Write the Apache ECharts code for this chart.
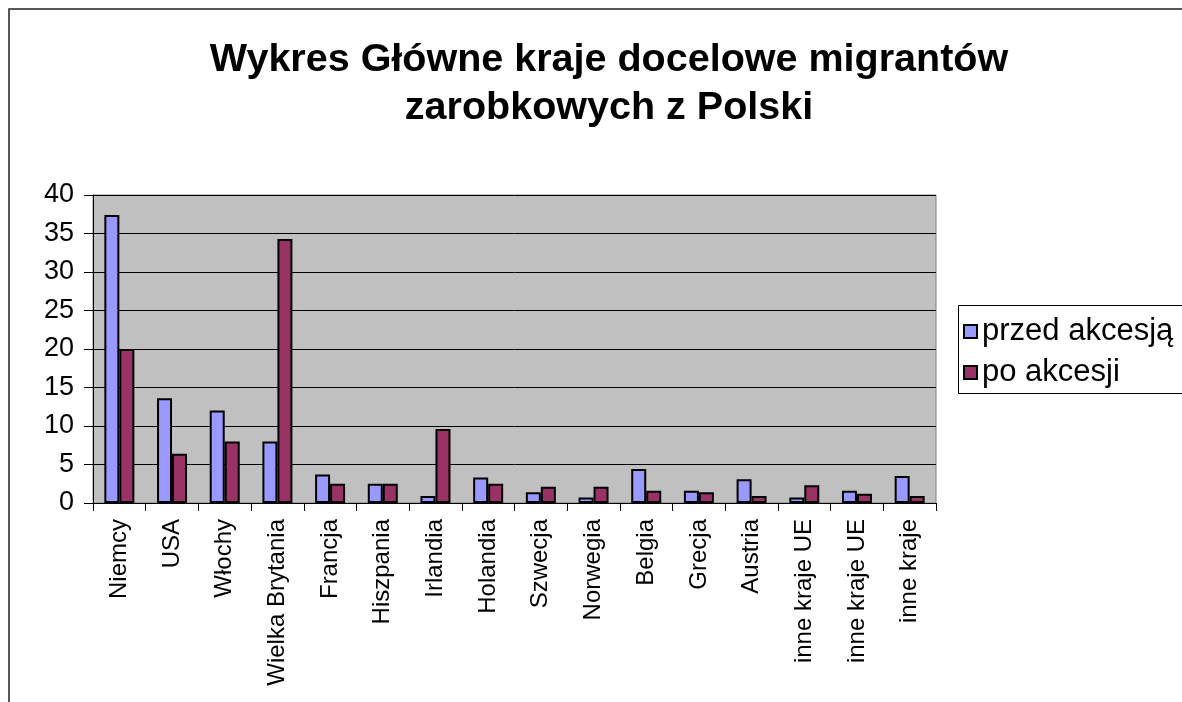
<!DOCTYPE html>
<html>
<head>
<meta charset="utf-8">
<script src="https://cdn.jsdelivr.net/npm/echarts@6/dist/echarts.min.js"></script>
<style>
  html, body { margin: 0; padding: 0; background: #fff; }
  #chart { width: 1182px; height: 702px; }
</style>
</head>
<body>
<div id="chart"></div>
<script>
const categories = ["Niemcy", "USA", "Włochy", "Wielka Brytania", "Francja", "Hiszpania", "Irlandia", "Holandia",
  "Szwecja", "Norwegia", "Belgia", "Grecja", "Austria", "inne kraje UE", "inne kraje UE", "inne kraje"];
const przedAkcesja = [37.4, 13.6, 12.0, 8.0, 3.7, 2.5, 0.9, 3.3, 1.4, 0.7, 4.4, 1.6, 3.1, 0.7, 1.6, 3.5];
const poAkcesji = [20.0, 6.4, 8.0, 34.3, 2.5, 2.5, 9.6, 2.5, 2.1, 2.1, 1.6, 1.4, 0.9, 2.3, 1.2, 0.9];
const seriesNames = ["przed akcesją", "po akcesji"];

const font = "'Liberation Sans', Arial, sans-serif";
const chart = echarts.init(document.getElementById("chart"));

chart.setOption({
  animation: false,
  textStyle: { fontFamily: font, color: "#000" },
  title: {
    text: "Wykres Główne kraje docelowe migrantów\nzarobkowych z Polski",
    left: 604,
    top: 31,
    textAlign: "center",
    textStyle: { fontSize: 39.5, fontWeight: "bold", lineHeight: 48, color: "#000", fontFamily: font },
  },
  legend: {
    data: seriesNames,
    orient: "vertical",
    left: 958,
    top: 305,
    icon: "rect",
    itemWidth: 13,
    itemHeight: 13,
    itemGap: 10,
    padding: [11, 5, 6, 5],
    textStyle: { fontSize: 31, color: "#000", fontFamily: font },
  },
  graphic: [
    {
      // outer chart border, runs off the right and bottom edges
      type: "rect",
      shape: { x: 9, y: 9, width: 1300, height: 800 },
      style: { fill: "none", stroke: "#222", lineWidth: 1.5 },
      silent: true,
    },
    {
      // legend frame, cut by the right edge like in the original
      type: "rect",
      shape: { x: 958.5, y: 305.5, width: 300, height: 88 },
      style: { fill: "none", stroke: "#000", lineWidth: 1 },
      silent: true,
    },
  ],
  grid: {
    left: 93,
    right: 246,
    top: 195,
    bottom: 199,
    show: true,
    backgroundColor: "#C0C0C0",
    borderColor: "#808080",
    borderWidth: 1,
  },
  xAxis: {
    type: "category",
    data: categories,
    axisLine: { lineStyle: { color: "#000", width: 1 } },
    axisTick: { show: true, length: 8, lineStyle: { color: "#000" } },
    axisLabel: { rotate: 90, fontSize: 24, margin: 16, color: "#000", fontFamily: font, interval: 0 },
  },
  yAxis: {
    type: "value",
    min: 0,
    max: 40,
    interval: 5,
    axisLine: { show: true, lineStyle: { color: "#000" } },
    axisTick: { show: true, length: 9, lineStyle: { color: "#000" } },
    axisLabel: { fontSize: 27, margin: 19, color: "#000", fontFamily: font },
    splitLine: { lineStyle: { color: "#000", width: 1 } },
  },
  series: [
    {
      name: seriesNames[0],
      type: "bar",
      data: przedAkcesja,
      barWidth: 15,
      barGap: "0%",
      itemStyle: { color: "#9999FF", borderColor: "#000", borderWidth: 2 },
    },
    {
      name: seriesNames[1],
      type: "bar",
      data: poAkcesji,
      barWidth: 15,
      itemStyle: { color: "#993366", borderColor: "#000", borderWidth: 2 },
    },
  ],
});
</script>
</body>
</html>
